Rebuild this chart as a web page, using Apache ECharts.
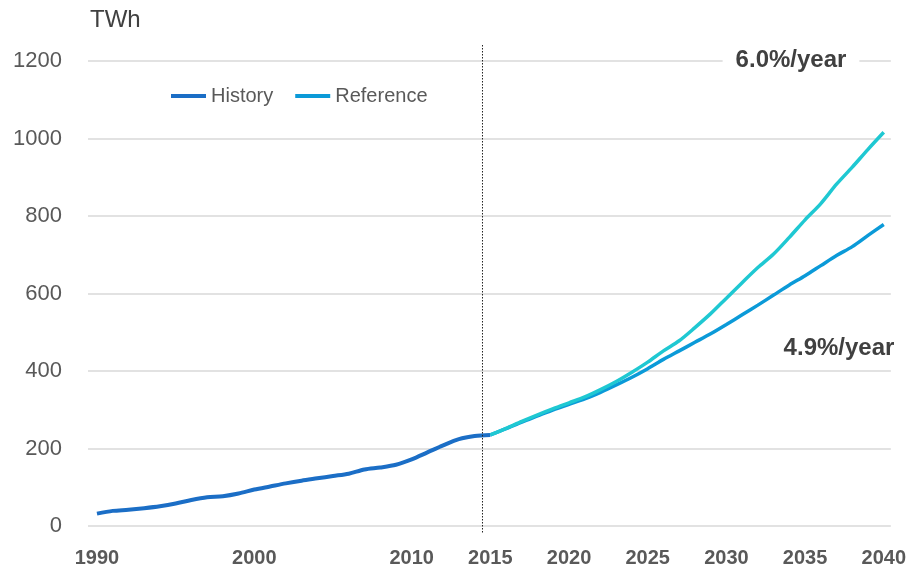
<!DOCTYPE html>
<html>
<head>
<meta charset="utf-8">
<script src="https://cdn.jsdelivr.net/npm/echarts@6/dist/echarts.min.js"></script>
<style>
  html, body { margin: 0; padding: 0; background: #fff; }
  #chart { width: 909px; height: 568px; }
</style>
</head>
<body>
<div id="chart"></div>
<script>
// history 1990-2015
var histYears = [1990,1991,1992,1993,1994,1995,1996,1997,1998,1999,2000,2001,2002,2003,2004,2005,2006,2007,2008,2009,2010,2011,2012,2013,2014,2015];
var histValues = [32,39,42,46,51,58,67,74,77,84,94,102,110,117,123,129,135,146,151,158,172,190,208,224,232,235];

// projections 2015-2040
var projYears = [2015,2016,2017,2018,2019,2020,2021,2022,2023,2024,2025,2026,2027,2028,2029,2030,2031,2032,2033,2034,2035,2036,2037,2038,2039,2040];
var refValues = [235,251,268,284,300,314,328,345,364,384,406,430,452,474,496,520,545,570,596,622,646,672,698,721,750,778];
var highValues = [235,252,270,287,303,318,333,352,373,397,423,452,478,512,548,588,628,667,702,745,790,832,882,926,972,1016];

var xLabels = [1990,2000,2010,2015,2020,2025,2030,2035,2040];
var splitYear = 2014.5;

function pairs(xs, ys) {
  return xs.map(function (x, i) { return [x, ys[i]]; });
}

var chart = echarts.init(document.getElementById('chart'));
var font = 'Liberation Sans, Arial, sans-serif';

var option = {
  animation: false,
  textStyle: { fontFamily: font },
  grid: { left: 88, right: 18, top: 61, bottom: 42 },
  legend: {
    left: 166, top: 81,
    itemWidth: 35, itemHeight: 4, itemGap: 22,
    icon: 'rect',
    textStyle: { fontSize: 20, color: '#595959', fontFamily: font },
    data: ['History', 'Reference']
  },
  xAxis: {
    type: 'value',
    min: 1989.43, max: 2040.45,
    splitLine: { show: false },
    axisLine: { show: false },
    axisTick: { show: false },
    axisLabel: {
      customValues: xLabels,
      fontSize: 20, fontWeight: 'bold', color: '#595959', margin: 22,
      formatter: function (v) { return String(v); }
    }
  },
  yAxis: {
    type: 'value',
    min: 0, max: 1200, interval: 200,
    axisLine: { show: false },
    axisTick: { show: false },
    splitLine: { lineStyle: { color: '#d9d9d9', width: 1.5 } },
    axisLabel: {
      fontSize: 22, color: '#595959', margin: 26,
      formatter: function (v) { return String(v); }
    }
  },
  series: [
    {
      name: 'History', type: 'line', symbol: 'none', smooth: 0.3,
      color: '#1b6ec6',
      lineStyle: { width: 4, color: '#1b6ec6' },
      data: pairs(histYears, histValues), z: 3
    },
    {
      name: 'Reference', type: 'line', symbol: 'none', smooth: 0.3,
      color: '#0b9ad8',
      lineStyle: { width: 3.5, color: '#0b9ad8' },
      data: pairs(projYears, refValues), z: 4
    },
    {
      name: 'High', type: 'line', symbol: 'none', smooth: 0.3,
      color: '#1fc8d2',
      lineStyle: { width: 3.5, color: '#1fc8d2' },
      data: pairs(projYears, highValues), z: 5
    }
  ]
};
chart.setOption(option);

var sx = chart.convertToPixel({ xAxisIndex: 0 }, splitYear);
chart.setOption({
  graphic: [
    {
      type: 'line', z: 10,
      shape: { x1: sx, y1: 45, x2: sx, y2: 533 },
      style: { stroke: '#222', lineWidth: 1, lineDash: [1.5, 1.5] }
    },
    {
      type: 'text', left: 90, top: 8,
      style: { text: 'TWh', fontSize: 24, fill: '#404040', fontFamily: font }
    },
    {
      type: 'text', z: 10, x: 791, y: 60,
      style: {
        text: '6.0%/year', fontSize: 24, fontWeight: 'bold', fill: '#404040', fontFamily: font,
        align: 'center', verticalAlign: 'middle', backgroundColor: '#fff', padding: [2, 13]
      }
    },
    {
      type: 'text', z: 10, x: 839, y: 348,
      style: {
        text: '4.9%/year', fontSize: 24, fontWeight: 'bold', fill: '#404040', fontFamily: font,
        align: 'center', verticalAlign: 'middle'
      }
    }
  ]
});
</script>
</body>
</html>
